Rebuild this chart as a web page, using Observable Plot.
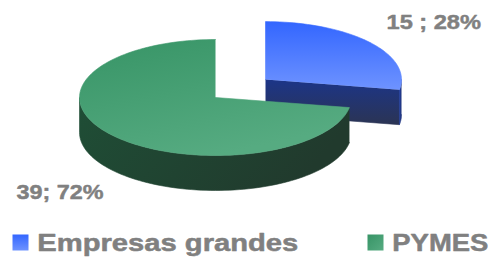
<!DOCTYPE html>
<html>
<head>
<meta charset="utf-8">
<script src="https://cdn.jsdelivr.net/npm/d3@7"></script>
<script src="https://cdn.jsdelivr.net/npm/@observablehq/plot@0.6"></script>
<style>
  html, body { margin: 0; padding: 0; background: #ffffff; }
  #chart svg { display: block; }
</style>
</head>
<body>
<div id="chart"></div>
<script>
// ---- data ----
const categories = ["Empresas grandes", "PYMES"];
const values = [15, 39];
const labels = ["15 ; 28%", "39; 72%"];

// ---- styles / layout ----
const W = 495, H = 259;
const pie = { cx: 215, cy: 97, rx: 136, ry: 58, depth: 35 };
const explode = [0.48, 0];
const topColors = [["#3366ff", "#6e93ff"], ["#379466", "#56ab81"]];
const sideColors = [["#1c3588", "#2b3454"], ["#1e4c34", "#20362a"]];
const rimColors = [["#1d3ca0", "#22357a"], ["#1f4e36", "#213a2d"]];
const labelPos = [[386, 28], [16, 198]];
const labelWidth = [94.5, 87];
const legendSquare = [[20, 242], [375, 242]];
const legendText = [[36.8, 250], [391.8, 250]];
const legendWidth = [261, 96];
const textColor = "#808080";
const font = "'Liberation Sans', Arial, sans-serif";

// ---- geometry from data ----
const arcs = d3.pie().sort(null).startAngle(0).endAngle(2 * Math.PI)(values);
function pt(a, dx, dy, z) {
  return [pie.cx + dx + pie.rx * Math.sin(a), pie.cy + dy - pie.ry * Math.cos(a) + z];
}
function arcPts(a0, a1, dx, dy, z) {
  const n = Math.max(2, Math.ceil(Math.abs(a1 - a0) / (Math.PI / 90)));
  return d3.range(n + 1).map(k => pt(a0 + (a1 - a0) * k / n, dx, dy, z));
}
const faces = [];
const order = arcs.map((a, i) => i).sort((i, j) => {
  const mi = (arcs[i].startAngle + arcs[i].endAngle) / 2, mj = (arcs[j].startAngle + arcs[j].endAngle) / 2;
  return (-Math.cos(mi)) - (-Math.cos(mj));
});
for (const i of order) {
  const a = arcs[i];
  const mid = (a.startAngle + a.endAngle) / 2;
  const dx = explode[i] * pie.rx * Math.sin(mid);
  const dy = -explode[i] * pie.ry * Math.cos(mid);
  const c0 = [pie.cx + dx, pie.cy + dy], c1 = [pie.cx + dx, pie.cy + dy + pie.depth];
  for (const [ang, normal] of [[a.startAngle, a.startAngle - Math.PI / 2], [a.endAngle, a.endAngle + Math.PI / 2]]) {
    if (-Math.cos(normal) > 0.05) {
      faces.push({ id: `side${i}`, pts: [c0, pt(ang, dx, dy, 0), pt(ang, dx, dy, pie.depth), c1] });
    }
  }
  const s0 = Math.max(a.startAngle, Math.PI / 2), s1 = Math.min(a.endAngle, 3 * Math.PI / 2);
  if (s1 > s0) {
    faces.push({ id: `rim${i}`, pts: [...arcPts(s0, s1, dx, dy, 0), ...arcPts(s1, s0, dx, dy, pie.depth)] });
  }
  faces.push({ id: `top${i}`, pts: [c0, ...arcPts(a.startAngle, a.endAngle, dx, dy, 0)] });
}

const marks = faces.map(f => Plot.line(f.pts, {
  x: d => d[0], y: d => d[1], fill: `url(#${f.id})`, stroke: `url(#${f.id})`, strokeWidth: 0.6, curve: "linear"
}));

labels.forEach((t, i) => marks.push(Plot.text([t], {
  x: () => labelPos[i][0], y: () => labelPos[i][1], text: d => d, textAnchor: "start", lineAnchor: "bottom",
  fontSize: 20, fontWeight: "bold", fill: textColor, stroke: textColor, strokeWidth: 0.45
})));
categories.forEach((c, i) => {
  marks.push(Plot.dot([c], {
    x: () => legendSquare[i][0], y: () => legendSquare[i][1], symbol: "square", r: 9.03,
    fill: `url(#leg${i})`, stroke: "none"
  }));
  marks.push(Plot.text([c], {
    x: () => legendText[i][0], y: () => legendText[i][1], text: d => d, textAnchor: "start", lineAnchor: "bottom",
    fontSize: 24, fontWeight: "bold", fill: textColor, stroke: textColor, strokeWidth: 0.5
  }));
});

const chart = Plot.plot({
  width: W, height: H, margin: 0,
  x: { domain: [0, W], range: [0, W], axis: null },
  y: { domain: [0, H], range: [0, H], axis: null },
  style: { background: "#ffffff", fontFamily: font },
  marks
});

const svgNode = chart.tagName.toLowerCase() === "svg" ? chart : chart.querySelector("svg");
const svg = d3.select(svgNode);
const defs = svg.insert("defs", ":first-child");
function grad(id, c0, c1, x2 = 0, y2 = 1) {
  const g = defs.append("linearGradient").attr("id", id).attr("x1", 0).attr("y1", 0).attr("x2", x2).attr("y2", y2);
  g.append("stop").attr("offset", "0%").attr("stop-color", c0);
  g.append("stop").attr("offset", "100%").attr("stop-color", c1);
}
categories.forEach((c, i) => {
  grad(`top${i}`, topColors[i][0], topColors[i][1], i === 1 ? 0.5 : 0, 1);
  grad(`side${i}`, sideColors[i][0], sideColors[i][1], 0, 1);
  grad(`rim${i}`, rimColors[i][0], rimColors[i][1], 1, 0.3);
  grad(`leg${i}`, topColors[i][0], topColors[i][1], i === 1 ? 1 : 0, 1);
});
// the reference text is horizontally stretched: fit each text to its measured width
svg.selectAll("text").each(function () {
  const t = this.textContent;
  let w = null;
  if (categories.includes(t)) w = legendWidth[categories.indexOf(t)];
  else if (labels.includes(t)) w = labelWidth[labels.indexOf(t)];
  if (w) { this.setAttribute("textLength", w); this.setAttribute("lengthAdjust", "spacingAndGlyphs"); }
});

document.getElementById("chart").appendChild(chart);
</script>
</body>
</html>
